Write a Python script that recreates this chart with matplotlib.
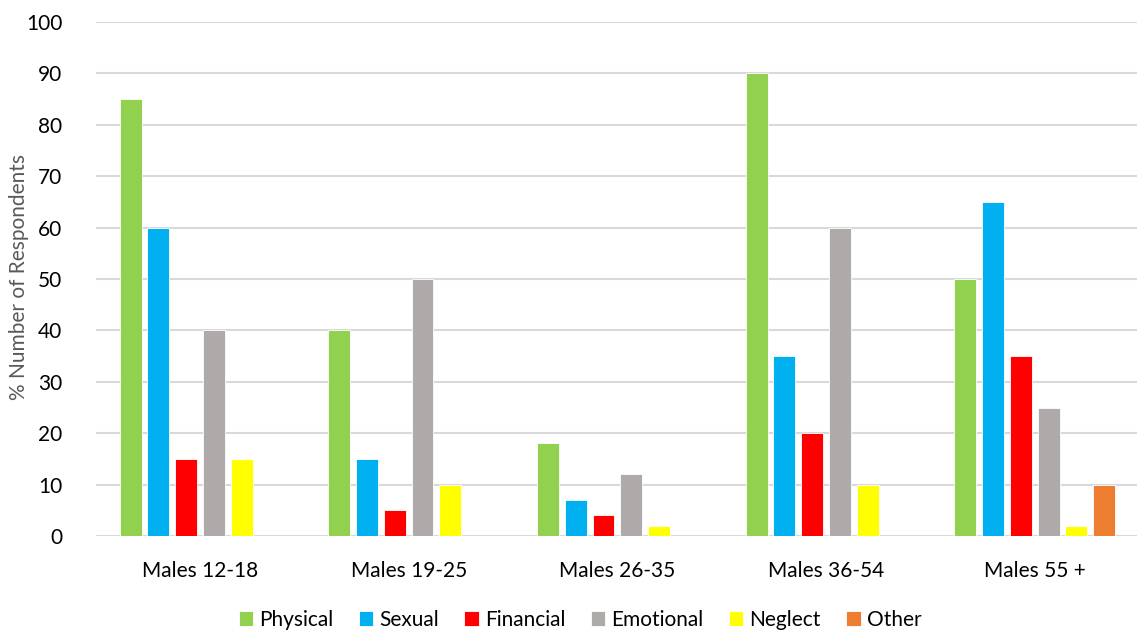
import numpy as np
import matplotlib.pyplot as plt

categories = ['Males 12-18', 'Males 19-25', 'Males 26-35', 'Males 36-54', 'Males 55 +']
series = ['Physical', 'Sexual', 'Financial', 'Emotional', 'Neglect', 'Other']
physical = [85, 40, 18, 90, 50]
sexual = [60, 15, 7, 35, 65]
financial = [15, 5, 4, 20, 35]
emotional = [40, 50, 12, 60, 25]
neglect = [15, 10, 2, 10, 2]
other = [0, 0, 0, 0, 10]
colors = ['#92D050', '#00B0F0', '#FF0000', '#AEAAAA', '#FFFF00', '#ED7D31']

values = [physical, sexual, financial, emotional, neglect, other]

plt.rcParams['font.family'] = ['Lato', 'DejaVu Sans']

fig = plt.figure(figsize=(11.37, 6.34), dpi=100)
ax = fig.add_axes([95.6 / 1137, 1 - 536 / 634, 1043.5 / 1137, 514 / 634])

x = np.arange(len(categories))
step = 0.133
width = 0.105
for i, (name, vals, c) in enumerate(zip(series, values, colors)):
  ax.bar(x + (i - 2.5) * step, vals, width, color=c, label=name,
         edgecolor='white', linewidth=0.6, zorder=3)

ax.set_xlim(-0.5, len(categories) - 0.5)
ax.set_ylim(0, 100)
ax.set_yticks(range(0, 101, 10))
ax.set_xticks(x)
ax.set_xticklabels(categories)
ax.yaxis.grid(True, color='#D9D9D9', linewidth=1.5, zorder=0)
ax.set_axisbelow(True)
for s in ax.spines.values():
  s.set_visible(False)
ax.tick_params(axis='both', length=0, labelsize=15, colors='#000000')
ax.tick_params(axis='y', pad=24)
ax.tick_params(axis='x', pad=18)

# y label placed by hand so it stays inside the figure
fig.text(19 / 1137, 1 - 277 / 634, '% Number of Respondents', rotation=90,
         ha='center', va='center', fontsize=15, color='#595959')

ax.legend(loc='center', bbox_to_anchor=(580 / 1137, 1 - 620 / 634),
          bbox_transform=fig.transFigure, ncol=6, frameon=False, fontsize=15,
          handlelength=0.7, handleheight=0.7, handletextpad=0.3, columnspacing=1.2)

fig.savefig('out.png', dpi=100)
